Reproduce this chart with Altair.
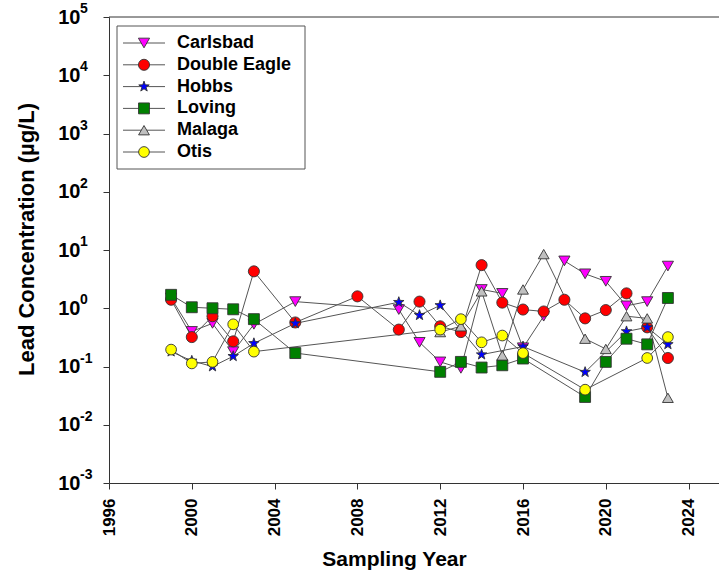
import altair as alt
import pandas as pd

# Sampling sites and their symbol styling
sites = ["Carlsbad", "Double Eagle", "Hobbs", "Loving", "Malaga", "Otis"]
fills = ["#FF00FF", "#FF0000", "#0000FF", "#008000", "#C0C0C0", "#FFFF00"]
STAR = ("M0,-1L0.235,-0.324L0.951,-0.309L0.38,0.124L0.588,0.809L0,0.4"
        "L-0.588,0.809L-0.38,0.124L-0.951,-0.309L-0.235,-0.324Z")
shapes = ["triangle-down", "circle", STAR, "square", "triangle-up", "circle"]
sizes = [125, 115, 110, 95, 125, 120]

# Lead concentration (ug/L) by sampling year
carlsbad_years = [1999, 2000, 2001, 2002, 2003, 2005, 2010, 2011, 2012, 2013,
                  2014, 2015, 2016, 2017, 2018, 2019, 2020, 2021, 2022, 2023]
carlsbad = [1.5, 0.40, 0.55, 0.18, 0.53, 1.3, 0.95, 0.26, 0.12, 0.093,
            2.1, 1.8, 0.21, 0.73, 6.5, 3.9, 2.9, 1.1, 1.3, 5.3]

double_eagle_years = [1999, 2000, 2001, 2002, 2003, 2005, 2008, 2010, 2011, 2012,
                      2013, 2014, 2015, 2016, 2017, 2018, 2019, 2020, 2021, 2022, 2023]
double_eagle = [1.4, 0.32, 0.73, 0.27, 4.3, 0.57, 1.6, 0.43, 1.3, 0.49,
                0.39, 5.5, 1.25, 0.95, 0.88, 1.4, 0.67, 0.93, 1.8, 0.47, 0.14]

hobbs_years = [1999, 2000, 2001, 2002, 2003, 2005, 2010, 2011, 2012, 2014,
               2016, 2019, 2021, 2022, 2023]
hobbs = [0.18, 0.125, 0.10, 0.15, 0.25, 0.55, 1.27, 0.76, 1.12, 0.16,
         0.22, 0.08, 0.40, 0.47, 0.24]

loving_years = [1999, 2000, 2001, 2002, 2003, 2005, 2012, 2013, 2014, 2015,
                2016, 2019, 2020, 2021, 2022, 2023]
loving = [1.7, 1.04, 1.0, 0.96, 0.65, 0.17, 0.081, 0.12, 0.096, 0.105,
          0.137, 0.030, 0.12, 0.30, 0.24, 1.5]

malaga_years = [2012, 2013, 2014, 2015, 2016, 2017, 2019, 2020, 2021, 2022, 2023]
malaga = [0.39, 0.49, 1.95, 0.155, 2.1, 8.5, 0.30, 0.20, 0.73, 0.67, 0.029]

otis_years = [1999, 2000, 2001, 2002, 2003, 2012, 2013, 2014, 2015, 2016,
              2019, 2022, 2023]
otis = [0.195, 0.113, 0.12, 0.53, 0.18, 0.43, 0.65, 0.26, 0.34, 0.17,
        0.040, 0.14, 0.32]

x_ticks = [1996, 2000, 2004, 2008, 2012, 2016, 2020, 2024]
y_ticks = [0.001, 0.01, 0.1, 1, 10, 100, 1000, 10000, 100000]
y_exponents = ["-3", "-2", "-1", "0", "1", "2", "3", "4", "5"]

series = [
    ("Carlsbad", carlsbad_years, carlsbad),
    ("Double Eagle", double_eagle_years, double_eagle),
    ("Hobbs", hobbs_years, hobbs),
    ("Loving", loving_years, loving),
    ("Malaga", malaga_years, malaga),
    ("Otis", otis_years, otis),
]
rows = []
for name, yrs, vals in series:
    for yr, v in zip(yrs, vals):
        rows.append({"site": name, "year": yr, "lead": v})
df = pd.DataFrame(rows)

W, H = 610, 466
FONT = "Liberation Sans"

x_enc = alt.X(
    "year:Q",
    scale=alt.Scale(domain=[1996, 1996 + W / 20.7], nice=False, zero=False),
    axis=alt.Axis(values=x_ticks, format="d", labelAngle=-90, labelAlign="right",
                  labelBaseline="middle", labelPadding=9, tickSize=6,
                  labelFontSize=17,
                  title="Sampling Year", titleX=285, titleY=76, titleFontSize=21,
                  titleBaseline="middle", titleAlign="center"),
)
y_enc = alt.Y(
    "lead:Q",
    scale=alt.Scale(type="log", domain=[0.001, 100000], nice=False),
    axis=alt.Axis(values=y_ticks, labelExpr="'10'", tickSize=6, labelPadding=23,
                  labelFontSize=20,
                  title="Lead Concentration (\u00b5g/L)", titleX=-83, titleY=222,
                  titleFontSize=22, titleAngle=-90, titleBaseline="middle",
                  titleAlign="center"),
)

shape_scale = alt.Scale(domain=sites, range=shapes)
fill_scale = alt.Scale(domain=sites, range=fills)
size_scale = alt.Scale(domain=sites, range=sizes)

lines = alt.Chart(df).mark_line(color="#555555", strokeWidth=1).encode(
    x=x_enc, y=y_enc, detail="site:N", order="year:Q"
)
points = alt.Chart(df).mark_point(filled=True, stroke="#333333", strokeWidth=0.9,
                                  opacity=1).encode(
    x=x_enc, y=y_enc,
    shape=alt.Shape("site:N", scale=shape_scale, legend=None),
    fill=alt.Fill("site:N", scale=fill_scale, legend=None),
    size=alt.Size("site:N", scale=size_scale, legend=None),
)

# Exponents of the power-of-ten tick labels, raised beside the "10"
exp_df = pd.DataFrame({"lead": y_ticks, "sup": y_exponents})
exponents = alt.Chart(exp_df).mark_text(
    align="left", baseline="middle", dy=-8, fontSize=14, fontWeight="bold",
    font=FONT, color="black"
).encode(x=alt.value(-29), y=y_enc, text="sup:N")

one = pd.DataFrame({"k": [0]})
top_edge = alt.Chart(one).mark_rule(color="#333333", strokeWidth=1).encode(
    x=alt.value(0), x2=alt.value(W), y=alt.value(0)
)

# Legend: framed box with a line-and-symbol sample per site
legend_box = alt.Chart(one).mark_rect(fill="white", stroke="#555555",
                                      strokeWidth=1).encode(
    x=alt.value(8), x2=alt.value(196), y=alt.value(9), y2=alt.value(152)
)
legend_layers = []
for i, name in enumerate(sites):
    ly = 26 + i * 21.8
    d = pd.DataFrame({"site": [name]})
    legend_layers.append(
        alt.Chart(d).mark_rule(color="#555555", strokeWidth=1).encode(
            x=alt.value(14), x2=alt.value(56), y=alt.value(ly))
    )
    legend_layers.append(
        alt.Chart(d).mark_point(filled=True, stroke="#333333", strokeWidth=0.9,
                                opacity=1).encode(
            x=alt.value(35), y=alt.value(ly),
            shape=alt.Shape("site:N", scale=shape_scale, legend=None),
            fill=alt.Fill("site:N", scale=fill_scale, legend=None),
            size=alt.Size("site:N", scale=size_scale, legend=None))
    )
    legend_layers.append(
        alt.Chart(d).mark_text(align="left", baseline="middle", fontSize=18,
                               fontWeight="bold", font=FONT, color="black").encode(
            x=alt.value(68), y=alt.value(ly), text="site:N")
    )

chart = alt.layer(top_edge, lines, points, exponents, legend_box,
                  *legend_layers).properties(
    width=W, height=H,
    autosize=alt.AutoSizeParams(type="none"),
    padding={"left": 109, "top": 17, "right": 0, "bottom": 92},
).configure(font=FONT).configure_view(strokeWidth=0).configure_axis(
    grid=False, domainColor="#333333", tickColor="#333333", domainWidth=1,
    labelFont=FONT, labelFontWeight="bold", labelColor="black",
    titleFont=FONT, titleFontWeight="bold", titleColor="black",
)

chart.save("out.html", embed_options={"renderer": "svg", "actions": False})
